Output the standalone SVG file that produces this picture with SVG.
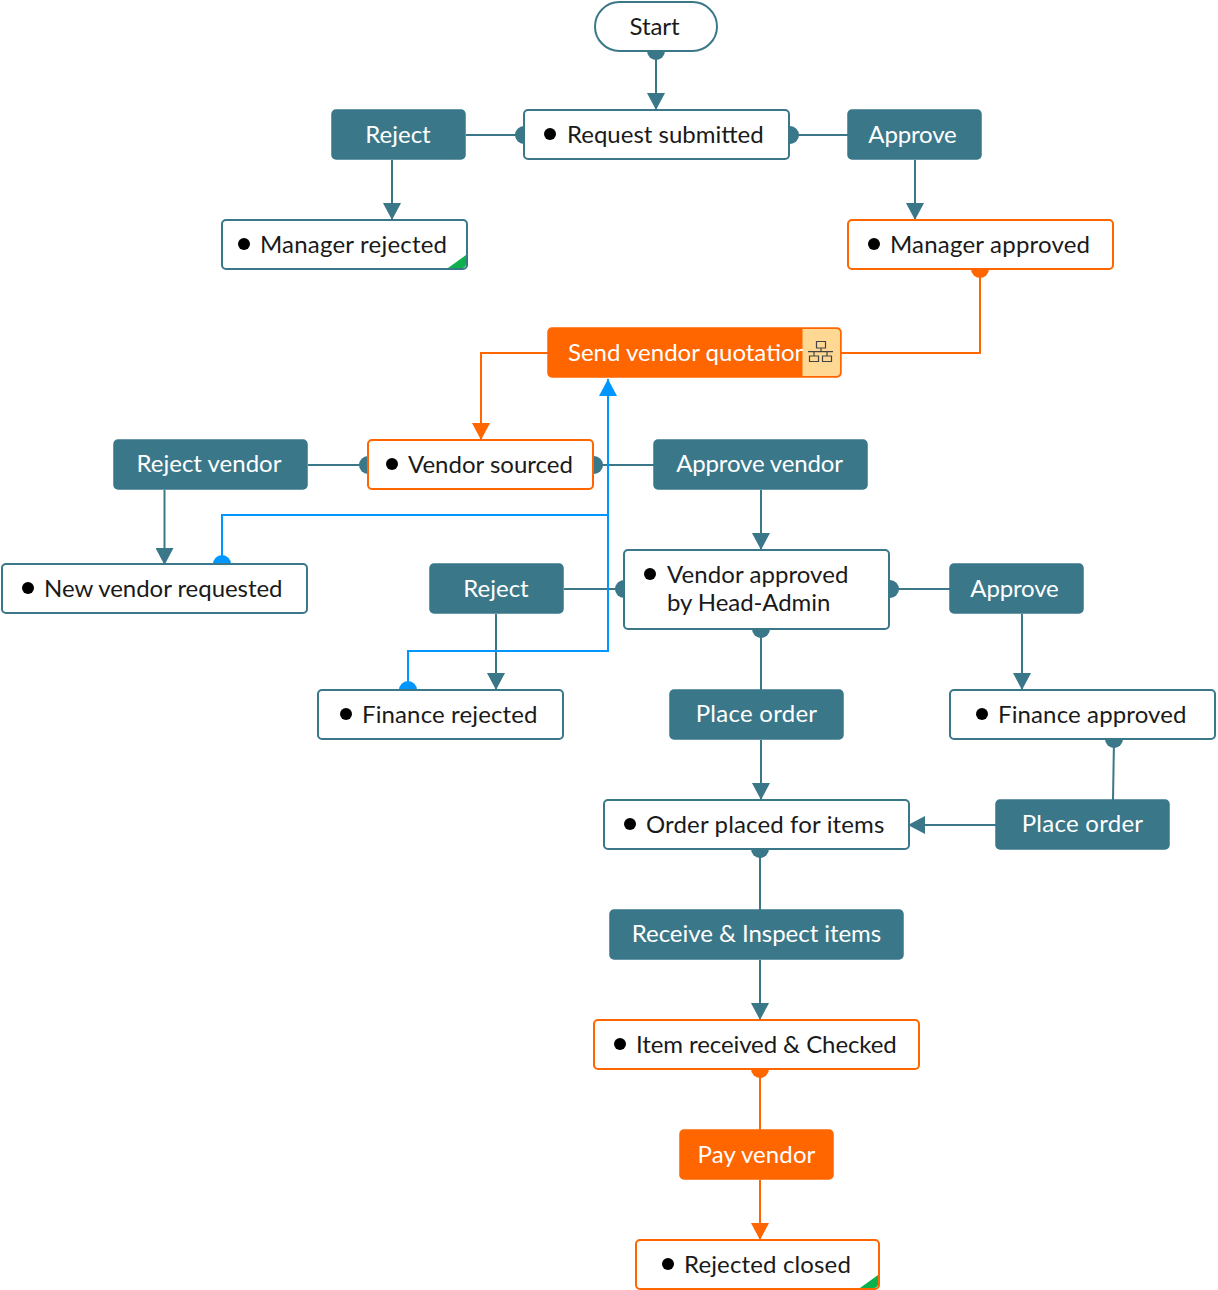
<svg xmlns="http://www.w3.org/2000/svg" width="1218" height="1290" viewBox="0 0 1218 1290">
<style>
text{font-family:"Lato","Liberation Sans",sans-serif;font-size:24px}
.s{fill:#fff;stroke:#3a7789;stroke-width:2}
.o{fill:#fff;stroke:#ff6600;stroke-width:2}
.a{fill:#3a7789;stroke:#3a7789;stroke-width:1.500}
.f{fill:#ff6600;stroke:#ff6600;stroke-width:1.500}
.l{fill:#1a1a1a}
.w{fill:#fff}
.m{text-anchor:middle}
.c{fill:none;stroke-width:2}
.ct{stroke:#3a7789}.co{stroke:#ff6600}.cb{stroke:#0096ff}
.dt{fill:#3a7789}.do{fill:#ff6600}.db{fill:#0096ff}
</style>
<defs>
<marker id="at" markerUnits="userSpaceOnUse" markerWidth="18" markerHeight="18" refX="17" refY="9" orient="auto"><path d="M0 0L17 9L0 18z" fill="#3a7789"/></marker>
<marker id="ao" markerUnits="userSpaceOnUse" markerWidth="18" markerHeight="18" refX="17" refY="9" orient="auto"><path d="M0 0L17 9L0 18z" fill="#ff6600"/></marker>
<marker id="ab" markerUnits="userSpaceOnUse" markerWidth="18" markerHeight="18" refX="17" refY="9" orient="auto"><path d="M0 0L17 9L0 18z" fill="#0096ff"/></marker>
</defs>
<g id="connectors">
<circle class="dt" cx="656" cy="51" r="9"/><path class="c ct" d="M656 51V110" marker-end="url(#at)"/>
<circle class="dt" cx="524" cy="135" r="9"/><path class="c ct" d="M524 135H466"/>
<path class="c ct" d="M392 160V220" marker-end="url(#at)"/>
<circle class="dt" cx="790" cy="135" r="9"/><path class="c ct" d="M790 135H848"/>
<path class="c ct" d="M915 160V220" marker-end="url(#at)"/>
<circle class="do" cx="980" cy="269" r="9"/><path class="c co" d="M980 269V353H841"/>
<path class="c co" d="M548 353H481V440" marker-end="url(#ao)"/>
<circle class="dt" cx="368" cy="465" r="9"/><path class="c ct" d="M368 465H308"/>
<circle class="dt" cx="594" cy="465" r="9"/><path class="c ct" d="M594 465H654"/>
<path class="c ct" d="M164.500 490V565" marker-end="url(#at)"/>
<path class="c ct" d="M761 490V550" marker-end="url(#at)"/>
<circle class="dt" cx="624" cy="589" r="9"/><path class="c ct" d="M624 589H564"/>
<path class="c ct" d="M496 614V690" marker-end="url(#at)"/>
<circle class="dt" cx="890" cy="589" r="9"/><path class="c ct" d="M890 589H950"/>
<path class="c ct" d="M1022 614V690" marker-end="url(#at)"/>
<circle class="dt" cx="761" cy="629" r="9"/><path class="c ct" d="M761 629V690"/>
<path class="c ct" d="M761 740V800" marker-end="url(#at)"/>
<circle class="dt" cx="1114" cy="739" r="9"/><path class="c ct" d="M1114 739L1113 800"/>
<path class="c ct" d="M996 825H908" marker-end="url(#at)"/>
<circle class="dt" cx="760" cy="849" r="9"/><path class="c ct" d="M760 849V910"/>
<path class="c ct" d="M760 960V1020" marker-end="url(#at)"/>
<circle class="do" cx="760" cy="1069" r="9"/><path class="c co" d="M760 1069V1130"/>
<path class="c co" d="M760 1180V1240" marker-end="url(#ao)"/>
<circle class="db" cx="222" cy="564" r="9"/><path class="c cb" d="M222 564V515H608"/>
<circle class="db" cx="408" cy="690" r="9"/><path class="c cb" d="M408 690V651H608V379" marker-end="url(#ab)"/>
</g>
<g id="start"><rect class="s" x="595" y="2" width="122" height="49" rx="24.500"/><text class="l m" x="654.500" y="35" letter-spacing="-0.100">Start</text></g>
<g id="request-submitted"><rect class="s" x="524" y="110" width="265" height="49" rx="4"/><circle cx="550" cy="134" r="6"/><text class="l" x="567" y="143">Request submitted</text></g>
<g id="reject-1"><rect class="a" x="332" y="110" width="133" height="49" rx="4"/><text class="w m" x="398" y="143">Reject</text></g>
<g id="approve-1"><rect class="a" x="848" y="110" width="133" height="49" rx="4"/><text class="w m" x="912.500" y="143" letter-spacing="-0.150">Approve</text></g>
<g id="manager-rejected"><rect class="s" x="222" y="220" width="245" height="49" rx="4"/><path d="M448 268L466 255V264Q466 268 462 268z" fill="#0db14b"/><circle cx="244" cy="244" r="6"/><text class="l" x="260" y="253" letter-spacing="0.200">Manager rejected</text></g>
<g id="manager-approved"><rect class="o" x="848" y="220" width="265" height="49" rx="4"/><circle cx="874" cy="244" r="6"/><text class="l" x="890" y="253" letter-spacing="0.200">Manager approved</text></g>
<g id="send-vendor-quotation"><rect class="f" x="548" y="328" width="293" height="49" rx="4"/><text class="w" x="568" y="361">Send vendor quotation</text>
<path d="M802.500 329H836Q840 329 840 333V372Q840 376 836 376H802.500z" fill="#ffd993"/>
<path d="M816.500 341.500h9v6.500h-9zM809.500 356h9v5.500h-9zM822.500 356h9v5.500h-9zM821 348v3.700M808 351.700h25M814 351.700v4.300M827 351.700v4.300" fill="none" stroke="#444" stroke-width="1.200"/></g>
<g id="vendor-sourced"><rect class="o" x="368" y="440" width="225" height="49" rx="4"/><circle cx="392" cy="464" r="6"/><text class="l" x="408" y="473">Vendor sourced</text></g>
<g id="reject-vendor"><rect class="a" x="114" y="440" width="193" height="49" rx="4"/><text class="w m" x="209" y="472">Reject vendor</text></g>
<g id="approve-vendor"><rect class="a" x="654" y="440" width="213" height="49" rx="4"/><text class="w m" x="759.500" y="472" letter-spacing="-0.150">Approve vendor</text></g>
<g id="new-vendor-requested"><rect class="s" x="2" y="564" width="305" height="49" rx="4"/><circle cx="28" cy="588" r="6"/><text class="l" x="44" y="597" letter-spacing="-0.050">New vendor requested</text></g>
<g id="reject-2"><rect class="a" x="430" y="564" width="133" height="49" rx="4"/><text class="w m" x="496" y="597">Reject</text></g>
<g id="vendor-approved"><rect class="s" x="624" y="550" width="265" height="79" rx="4"/><circle cx="650" cy="574" r="6"/><text class="l" x="667" y="583" letter-spacing="0.070">Vendor approved</text><text class="l" x="667" y="611" letter-spacing="-0.080">by Head-Admin</text></g>
<g id="approve-2"><rect class="a" x="950" y="564" width="133" height="49" rx="4"/><text class="w m" x="1014.500" y="597" letter-spacing="-0.150">Approve</text></g>
<g id="finance-rejected"><rect class="s" x="318" y="690" width="245" height="49" rx="4"/><circle cx="346" cy="714" r="6"/><text class="l" x="362" y="723" letter-spacing="0.130">Finance rejected</text></g>
<g id="place-order-1"><rect class="a" x="670" y="690" width="173" height="49" rx="4"/><text class="w m" x="756.500" y="722" letter-spacing="0.270">Place order</text></g>
<g id="finance-approved"><rect class="s" x="950" y="690" width="265" height="49" rx="4"/><circle cx="982" cy="714" r="6"/><text class="l" x="998" y="723" letter-spacing="0.130">Finance approved</text></g>
<g id="order-placed"><rect class="s" x="604" y="800" width="305" height="49" rx="4"/><circle cx="630" cy="824" r="6"/><text class="l" x="646" y="833" letter-spacing="0.140">Order placed for items</text></g>
<g id="place-order-2"><rect class="a" x="996" y="800" width="173" height="49" rx="4"/><text class="w m" x="1082.500" y="832" letter-spacing="0.270">Place order</text></g>
<g id="receive-inspect"><rect class="a" x="610" y="910" width="293" height="49" rx="4"/><text class="w m" x="756.500" y="942" letter-spacing="-0.050">Receive &amp; Inspect items</text></g>
<g id="item-received"><rect class="o" x="594" y="1020" width="325" height="49" rx="4"/><circle cx="620" cy="1044" r="6"/><text class="l" x="636" y="1053" letter-spacing="-0.090">Item received &amp; Checked</text></g>
<g id="pay-vendor"><rect class="f" x="680" y="1130" width="153" height="49" rx="4"/><text class="w m" x="756.500" y="1163" letter-spacing="0.100">Pay vendor</text></g>
<g id="rejected-closed"><rect class="o" x="636" y="1240" width="243" height="49" rx="4"/><path d="M860 1288L878 1275V1284Q878 1288 874 1288z" fill="#0db14b"/><circle cx="668" cy="1264" r="6"/><text class="l" x="684" y="1273" letter-spacing="0.140">Rejected closed</text></g>
</svg>
